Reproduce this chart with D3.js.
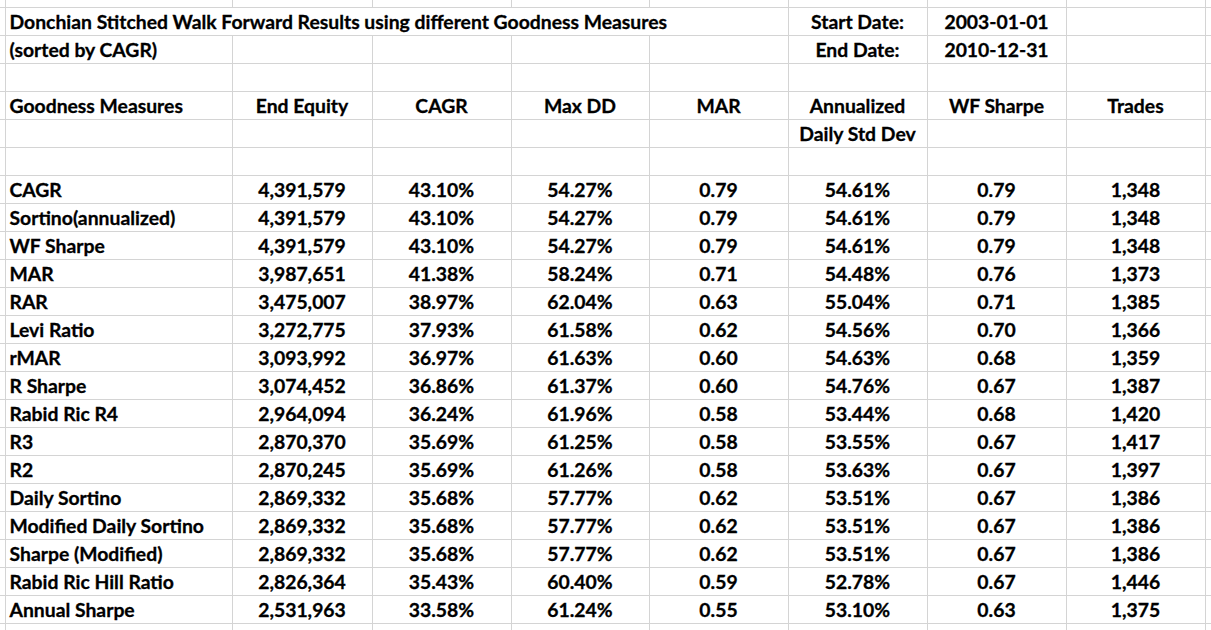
<!DOCTYPE html>
<html><head><meta charset="utf-8">
<script src="https://cdn.jsdelivr.net/npm/d3@7/dist/d3.min.js"></script>
<style>html,body{margin:0;padding:0;background:#fff;overflow:hidden}</style>
</head><body><svg id="c" width="1211" height="630"></svg>
<script>
// ---- data ----
const title = "Donchian Stitched Walk Forward Results using different Goodness Measures";
const subtitle = "(sorted by CAGR)";
const startLabel = "Start Date:", startDate = "2003-01-01";
const endLabel = "End Date:", endDate = "2010-12-31";
const headers = ["Goodness Measures","End Equity","CAGR","Max DD","MAR","Annualized","WF Sharpe","Trades"];
const headers2 = ["","","","","","Daily Std Dev","",""];
const measures = ["CAGR","Sortino(annualized)","WF Sharpe","MAR","RAR","Levi Ratio","rMAR","R Sharpe","Rabid Ric R4","R3","R2","Daily Sortino","Modified Daily Sortino","Sharpe (Modified)","Rabid Ric Hill Ratio","Annual Sharpe"];
const endEquity = [4391579,4391579,4391579,3987651,3475007,3272775,3093992,3074452,2964094,2870370,2870245,2869332,2869332,2869332,2826364,2531963];
const cagr = [0.4310,0.4310,0.4310,0.4138,0.3897,0.3793,0.3697,0.3686,0.3624,0.3569,0.3569,0.3568,0.3568,0.3568,0.3543,0.3358];
const maxDD = [0.5427,0.5427,0.5427,0.5824,0.6204,0.6158,0.6163,0.6137,0.6196,0.6125,0.6126,0.5777,0.5777,0.5777,0.6040,0.6124];
const mar = [0.79,0.79,0.79,0.71,0.63,0.62,0.60,0.60,0.58,0.58,0.58,0.62,0.62,0.62,0.59,0.55];
const stdDev = [0.5461,0.5461,0.5461,0.5448,0.5504,0.5456,0.5463,0.5476,0.5344,0.5355,0.5363,0.5351,0.5351,0.5351,0.5278,0.5310];
const wfSharpe = [0.79,0.79,0.79,0.76,0.71,0.70,0.68,0.67,0.68,0.67,0.67,0.67,0.67,0.67,0.67,0.63];
const trades = [1348,1348,1348,1373,1385,1366,1359,1387,1420,1417,1397,1386,1386,1386,1446,1375];

// ---- layout ----
const colEdges = [5,232,372,511,649,788,927,1066,1205];
const rowTop = 7, rowH = 28, nRows = 23;
const svg = d3.select("#c");
const y = d3.scaleLinear().domain([0,1]).range([rowTop,rowTop+rowH]);
const gridColor = "#d4d4d4";
const FONT = "Lato, 'Open Sans', sans-serif";

// font size fit
const probe = svg.append("text").attr("font-family",FONT).attr("font-weight","bold").attr("font-size",100).text(title);
const fs = 100*658/probe.node().getComputedTextLength();
probe.remove();

// grid: horizontal
const hl = d3.range(-1,nRows);
svg.append("g").selectAll("line").data(hl).join("line")
  .attr("x1",0).attr("x2",1211).attr("y1",d=>y(d)+0.5).attr("y2",d=>y(d)+0.5)
  .attr("stroke",gridColor).attr("stroke-width",1);
// vertical lines (hidden under title overflow in row 0)
const vg = svg.append("g");
colEdges.forEach((x,i)=>{
  const hidden = x>10 && x<669+5;
  const segs = hidden ? [[0,y(0)],[y(1),630]] : [[0,630]];
  segs.forEach(s=>vg.append("line").attr("x1",x+0.5).attr("x2",x+0.5).attr("y1",s[0]).attr("y2",s[1])
    .attr("stroke",gridColor).attr("stroke-width",1));
});

const g = svg.append("g").attr("font-family",FONT).attr("font-weight","bold").attr("font-size",fs)
  .attr("fill","#000").attr("stroke","#000").attr("stroke-width",0.3);
const base = 22;
function cell(col,row,txt,align){
  const x0 = colEdges[col], x1 = colEdges[col+1];
  g.append("text").attr("x", align==="left"? x0+4.5 : (x0+x1)/2)
   .attr("y", y(row)+base).attr("text-anchor", align==="left"?"start":"middle").text(txt);
}
cell(0,0,title,"left");
cell(0,1,subtitle,"left");
cell(5,0,startLabel); cell(6,0,startDate);
cell(5,1,endLabel); cell(6,1,endDate);
headers.forEach((h,i)=>cell(i,3,h,i===0?"left":"c"));
headers2.forEach((h,i)=>{ if(h) cell(i,4,h,"c"); });

const fInt = d3.format(",d"), fPct = d3.format(".2%"), fDec = d3.format(".2f");
measures.forEach((m,i)=>{
  const r = 6+i;
  cell(0,r,m,"left");
  cell(1,r,fInt(endEquity[i]));
  cell(2,r,fPct(cagr[i]));
  cell(3,r,fPct(maxDD[i]));
  cell(4,r,fDec(mar[i]));
  cell(5,r,fPct(stdDev[i]));
  cell(6,r,fDec(wfSharpe[i]));
  cell(7,r,fInt(trades[i]));
});
</script></body></html>
